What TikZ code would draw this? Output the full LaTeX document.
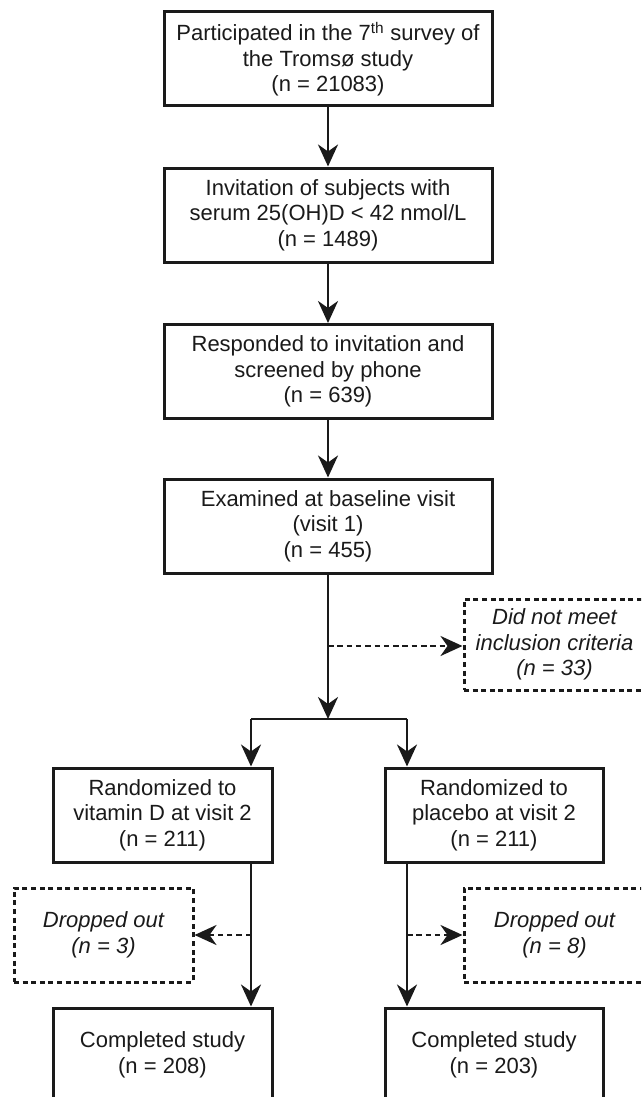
\documentclass[tikz,border=0pt]{standalone}
\usepackage{fontspec}
\setmainfont{Liberation Sans}
\usetikzlibrary{arrows.meta}
\definecolor{ink}{HTML}{1A1A1A}
\begin{document}
\begin{tikzpicture}[x=1pt,y=-1pt,
  font=\fontsize{22}{25.5}\selectfont,
  box/.style={draw=ink, line width=3pt, minimum width=#1, minimum height=94pt,
    inner sep=0pt, align=center, text=ink},
  dbox/.style={draw=ink, line width=3pt, dash pattern=on 5pt off 3.6pt,
    minimum width=#1, minimum height=92pt, inner sep=0pt, align=center, text=ink,
    font=\fontsize{22}{25.5}\selectfont\itshape},
  conn/.style={draw=ink, line width=2.8pt},
  arr/.style={conn, -{Stealth[length=22pt,width=20pt,inset=7pt]}},
  darr/.style={arr, dash pattern=on 5.5pt off 3.8pt}
]
\useasboundingbox (0,0) rectangle (641,1097);
\fill[white] (0,0) rectangle (641,1097);
\clip (0,0) rectangle (641,1097);

% main column
\node[box=328pt] (b1) at (328,59) {Participated in the 7\textsuperscript{th} survey of\\the Tromsø study\\(n = 21083)};
\node[box=328pt] (b2) at (328,215) {Invitation of subjects with\\serum 25(OH)D < 42 nmol/L\\(n = 1489)};
\node[box=328pt] (b3) at (328,371.5) {Responded to invitation and\\screened by phone\\(n = 639)};
\node[box=328pt] (b4) at (328,526) {Examined at baseline visit\\(visit 1)\\(n = 455)};

\node[dbox=181pt, minimum height=91pt] (ex) at (554.5,644.5) {Did not meet\\inclusion criteria\\(n = 33)};

% randomized
\node[box=219pt] (rl) at (162.5,815) {Randomized to\\vitamin D at visit 2\\(n = 211)};
\node[box=218pt] (rr) at (494,815) {Randomized to\\placebo at visit 2\\(n = 211)};

% dropped out
\node[dbox=179pt, minimum height=94pt] (ol) at (103.5,935) {Dropped out\\(n = 3)};
\node[dbox=181pt, minimum height=94pt] (or) at (554.5,935) {Dropped out\\(n = 8)};

% completed
\node[box=219pt] (cl) at (162.5,1055) {Completed study\\(n = 208)};
\node[box=218pt] (cr) at (494,1055) {Completed study\\(n = 203)};

% coordinates
\coordinate (j) at (328,719);
\coordinate (jl) at (251,719);
\coordinate (jr) at (407,719);
\coordinate (d1) at (328,646);
\coordinate (dl) at (251,935);
\coordinate (dr) at (407,935);

% connectors
\draw[arr] (b1) -- (b2);
\draw[arr] (b2) -- (b3);
\draw[arr] (b3) -- (b4);
\draw[arr] (b4) -- (j);
\draw[darr] (d1) -- (d1 -| ex.west);
\draw[conn] (jl) -- (jr);
\draw[arr] (jl) -- (jl |- rl.north);
\draw[arr] (jr) -- (jr |- rr.north);
\draw[arr] (jl |- rl.south) -- (jl |- cl.north);
\draw[arr] (jr |- rr.south) -- (jr |- cr.north);
\draw[darr] (dl) -- (dl -| ol.east);
\draw[darr] (dr) -- (dr -| or.west);
\end{tikzpicture}
\end{document}
